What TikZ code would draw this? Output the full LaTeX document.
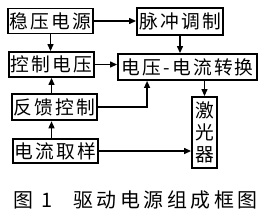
\documentclass[tikz,border=0pt]{standalone}
\usepackage{fontspec}
\setmainfont{Noto Sans CJK SC}
\usetikzlibrary{arrows.meta,calc}
\tikzset{
  box/.style={draw=black, line width=1.6pt, inner sep=0pt, minimum width=2.55cm, minimum height=0.75cm,
    font=\fontsize{16pt}{18pt}\selectfont\addfontfeature{LetterSpace=12}},
  tallbox/.style={box, minimum width=0.75cm, minimum height=2.13cm, align=center,
    font=\fontsize{16pt}{18.7pt}\selectfont},
  link/.style={line width=1.1pt, -{Triangle[length=2.1mm,width=1.8mm]}},
  caption/.style={inner sep=0pt, anchor=west, font=\fontsize{17pt}{19pt}\selectfont\addfontfeature{LetterSpace=18}},
}
\begin{document}
\begin{tikzpicture}[x=0.03cm,y=-0.03cm]
\useasboundingbox (0,0) rectangle (265,216);
\node[box] (wy) at (50.5,21) {稳压电源};
\node[box, minimum width=2.58cm, minimum height=0.8cm] (mc) at (180,21.5) {脉冲调制};
\node[box] (kz) at (51.5,64.5) {控制电压};
\node[box, minimum width=4.17cm, minimum height=0.78cm] (dz) at (187.5,67) {电压-电流转换};
\node[box, minimum height=0.8cm] (fk) at (54.5,107) {反馈控制};
\node[box, minimum height=0.72cm] (dl) at (55.5,151) {电流取样};
\node[tallbox] (jg) at (204.5,132.5) {激\\光\\器};
\node[caption] (fig) at (13,200) {图 1\hspace{0.63cm}驱动电源组成框图};
\draw[link] (wy.east) -- (wy.east -| mc.west);
\draw[link] (mc.south) -- (mc.south |- dz.north);
\draw[link] (wy.south) -- (wy.south |- kz.north);
\draw[link] (kz.east) -- (kz.east -| dz.west);
\draw[link] (kz.south |- fk.north) -- (kz.south);
\draw[link] (dl.north -| kz.south) -- (fk.south -| kz.south);
\draw[link] (fk.east) -| ($(dz.south west)+(30,0)$);
\draw[link] (jg.north |- dz.south) -- (jg.north);
\draw[link] (dl.east) -- (dl.east -| jg.west);
\end{tikzpicture}
\end{document}
